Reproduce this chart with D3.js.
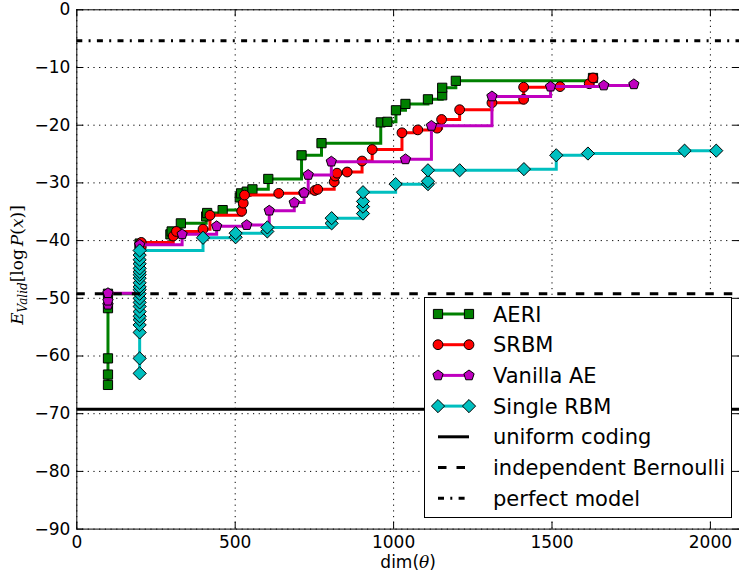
<!DOCTYPE html>
<html>
<head>
<meta charset="utf-8">
<script src="https://cdn.jsdelivr.net/npm/d3@7"></script>
<style>
  html, body { margin: 0; padding: 0; background: #fff; }
  svg { display: block; font-family: "DejaVu Sans", sans-serif; }
</style>
</head>
<body>
<svg id="chart" width="739" height="573"></svg>
<script>
// values, [dim, E_valid]
const AERI = [
  [100, -65.1], [100, -63.3], [100, -60.5], [100, -51.8], [100, -49.3],
  [200, -41.2], [200, -40.6], [297, -39.0], [301, -38.5], [330, -37.1],
  [410, -35.9], [413, -35.3], [462, -34.8], [516, -32.6], [520, -31.9],
  [538, -31.6], [556, -31.2], [606, -29.4], [711, -25.3], [774, -23.2],
  [961, -19.6], [982, -19.5], [1009, -17.5], [1039, -16.4], [1110, -15.6],
  [1155, -14.9], [1155, -13.6], [1198, -12.4], [1631, -11.9]
];
const SRBM = [
  [205, -41.2], [205, -40.4], [306, -39.3], [316, -38.5], [400, -38.1],
  [422, -35.7], [522, -35.0], [527, -33.6], [531, -32.2], [639, -31.9],
  [718, -31.8], [753, -31.4], [762, -31.2], [814, -29.9], [817, -28.9],
  [823, -28.4], [855, -28.2], [902, -26.3], [934, -24.3], [1028, -21.4],
  [1078, -20.9], [1139, -20.6], [1153, -19.1], [1210, -17.4], [1312, -16.2],
  [1412, -15.6], [1412, -13.5], [1527, -13.4], [1619, -12.9], [1631, -11.9]
];
const VANILLA_AE = [
  [100, -51.2], [100, -50.5], [100, -49.2], [200, -45.0], [200, -40.8],
  [334, -39.0], [443, -37.6], [538, -37.4], [609, -34.9], [688, -33.5],
  [719, -31.8], [732, -28.7], [805, -26.4], [1039, -26.0], [1121, -20.2],
  [1312, -15.1], [1497, -13.4], [1665, -13.2], [1760, -13.0]
];
const SINGLE_RBM = [
  [200, -63.1], [200, -60.5], [200, -56.0], [200, -54.7], [200, -53.8],
  [200, -53.2], [200, -52.4], [200, -51.5], [200, -50.8], [200, -50.1],
  [200, -49.3], [200, -48.6], [200, -48.1], [200, -47.4], [200, -46.6],
  [200, -46.0], [200, -45.5], [200, -44.9], [200, -44.1], [200, -43.4],
  [200, -42.6], [200, -41.8], [400, -39.6], [503, -39.5], [503, -38.8],
  [603, -38.5], [603, -37.8], [806, -37.1], [806, -36.2], [905, -35.4],
  [905, -34.2], [905, -33.3], [905, -31.7], [1008, -30.3], [1110, -30.3],
  [1110, -29.8], [1110, -27.9], [1210, -27.9], [1413, -27.7], [1515, -25.3],
  [1615, -25.0], [1920, -24.5], [2020, -24.5]
];

// reference levels
const UNIFORM_CODING = -69.3;
const INDEP_BERNOULLI = -49.3;
const PERFECT_MODEL = -5.45;

const X_TICKS = [0, 500, 1000, 1500, 2000];
const Y_TICKS = [0, -10, -20, -30, -40, -50, -60, -70, -80, -90];

const SERIES = [
  { name: "AERI", data: AERI, color: "#008000", marker: "square" },
  { name: "SRBM", data: SRBM, color: "#ff0000", marker: "circle" },
  { name: "Vanilla AE", data: VANILLA_AE, color: "#bf00bf", marker: "pentagon" },
  { name: "Single RBM", data: SINGLE_RBM, color: "#00bfbf", marker: "diamond" }
];

const REF_LINES = [
  { name: "uniform coding", value: UNIFORM_CODING, dash: null },
  { name: "independent Bernoulli", value: INDEP_BERNOULLI, dash: "8.5,10" },
  { name: "perfect model", value: PERFECT_MODEL, dash: "6,6.3,2,6.3" }
];

const svg = d3.select("#chart");
const margin = { left: 76.3, top: 9.3, right: 740, bottom: 528.6 };
const tickFs = 17;
const legendFs = 21;

const x = d3.scaleLinear().domain([0, 2095]).range([margin.left, margin.right]);
const y = d3.scaleLinear().domain([-90, 0]).range([margin.bottom, margin.top]);

const minus = s => String(s).replace("-", "\u2212");

// marker path centred on 0,0
function markerPath(type) {
  if (type === "square") return "M-4.6,-4.6H4.6V4.6H-4.6Z";
  if (type === "circle") return d3.symbol(d3.symbolCircle, Math.PI * 4.9 * 4.9)();
  if (type === "diamond") return "M0,-6.6L6.6,0L0,6.6L-6.6,0Z";
  const r = 5.4;
  const pts = d3.range(5).map(k => {
    const a = (-90 + 72 * k) * Math.PI / 180;
    return [r * Math.cos(a), r * Math.sin(a)];
  });
  return "M" + pts.map(p => p.join(",")).join("L") + "Z";
}

// grid
svg.append("g")
  .attr("transform", `translate(0,${margin.bottom})`)
  .call(d3.axisBottom(x).tickValues(X_TICKS).tickSize(-(margin.bottom - margin.top)).tickFormat(""))
  .call(g => g.select(".domain").remove())
  .selectAll("line")
  .attr("stroke", "#000").attr("stroke-width", 1).attr("stroke-dasharray", "1.2,4.5");

svg.append("g")
  .attr("transform", `translate(${margin.left},0)`)
  .call(d3.axisLeft(y).tickValues(Y_TICKS).tickSize(-(margin.right - margin.left)).tickFormat(""))
  .call(g => g.select(".domain").remove())
  .selectAll("line")
  .attr("stroke", "#000").attr("stroke-width", 1).attr("stroke-dasharray", "1.2,4.5");

// clip
svg.append("clipPath").attr("id", "clip")
  .append("rect")
  .attr("x", margin.left).attr("y", margin.top)
  .attr("width", margin.right - margin.left).attr("height", margin.bottom - margin.top);

const plot = svg.append("g").attr("clip-path", "url(#clip)");

const line = d3.line()
  .x(d => x(d[0]))
  .y(d => y(d[1]))
  .curve(d3.curveStepAfter);

SERIES.forEach(s => {
  const g = plot.append("g");
  g.append("path")
    .datum(s.data)
    .attr("d", line)
    .attr("fill", "none")
    .attr("stroke", s.color)
    .attr("stroke-width", 3);
  g.selectAll("path.mk")
    .data(s.data)
    .join("path")
    .attr("class", "mk")
    .attr("d", markerPath(s.marker))
    .attr("transform", d => `translate(${x(d[0])},${y(d[1])})`)
    .attr("fill", s.color)
    .attr("stroke", "#000")
    .attr("stroke-width", 1);
});

REF_LINES.forEach(r => {
  plot.append("line")
    .attr("x1", margin.left).attr("x2", margin.right)
    .attr("y1", y(r.value)).attr("y2", y(r.value))
    .attr("stroke", "#000")
    .attr("stroke-width", 3)
    .attr("stroke-dasharray", r.dash);
});

// axes: ticks inside on all four sides
function styleAxis(g) {
  g.select(".domain").attr("stroke", "#000").attr("stroke-width", 1);
  g.selectAll(".tick line").attr("stroke", "#000").attr("stroke-width", 1);
  g.selectAll(".tick text")
    .attr("fill", "#000")
    .style("font-family", "DejaVu Sans")
    .style("font-size", tickFs + "px");
}

svg.append("g")
  .attr("transform", `translate(0,${margin.bottom})`)
  .call(d3.axisBottom(x).tickValues(X_TICKS).tickSize(-7).tickSizeOuter(0).tickPadding(7).tickFormat(d3.format("d")))
  .call(styleAxis);

svg.append("g")
  .attr("transform", `translate(0,${margin.top})`)
  .call(d3.axisTop(x).tickValues(X_TICKS).tickSize(-7).tickSizeOuter(0).tickFormat(""))
  .call(styleAxis);

svg.append("g")
  .attr("transform", `translate(${margin.left},0)`)
  .call(d3.axisLeft(y).tickValues(Y_TICKS).tickSize(-7).tickSizeOuter(0).tickPadding(6).tickFormat(minus))
  .call(styleAxis);

svg.append("g")
  .attr("transform", `translate(${margin.right},0)`)
  .call(d3.axisRight(y).tickValues(Y_TICKS).tickSize(-7).tickSizeOuter(0).tickFormat(""))
  .call(styleAxis);

// axis labels
const xl = svg.append("text")
  .attr("x", (margin.left + margin.right) / 2)
  .attr("y", 568)
  .attr("text-anchor", "middle")
  .style("font-size", tickFs + "px");
xl.append("tspan").text("dim(");
xl.append("tspan").style("font-family", "DejaVu Serif").style("font-style", "italic").text("\u03b8");
xl.append("tspan").text(")");

const yl = svg.append("text")
  .attr("transform", "translate(23,265) rotate(-90)")
  .attr("text-anchor", "middle")
  .style("font-family", "DejaVu Serif")
  .style("font-size", "17px");
yl.append("tspan").style("font-style", "italic").text("E");
yl.append("tspan").style("font-style", "italic").style("font-size", "12px").attr("dy", 4).text("Valid");
yl.append("tspan").attr("dy", -4).text("[log");
yl.append("tspan").style("font-style", "italic").attr("dx", 3).text("P");
yl.append("tspan").text("(");
yl.append("tspan").style("font-style", "italic").text("x");
yl.append("tspan").text(")]");

// legend
const legend = svg.append("g");
legend.append("rect")
  .attr("x", 424.5).attr("y", 297.5)
  .attr("width", 307).attr("height", 220)
  .attr("fill", "#fff")
  .attr("stroke", "#000")
  .attr("stroke-width", 1);

const legendItems = SERIES.map(s => ({ name: s.name, color: s.color, marker: s.marker, dash: null }))
  .concat(REF_LINES.map(r => ({ name: r.name, color: "#000", marker: null, dash: r.dash })));

legendItems.forEach((d, i) => {
  const cy = 314 + i * 30.7;
  const g = legend.append("g");
  g.append("line")
    .attr("x1", 438).attr("x2", 469)
    .attr("y1", cy).attr("y2", cy)
    .attr("stroke", d.color)
    .attr("stroke-width", 3)
    .attr("stroke-dasharray", d.dash);
  if (d.marker) {
    [438, 469].forEach(mx => {
      g.append("path")
        .attr("d", markerPath(d.marker))
        .attr("transform", `translate(${mx},${cy})`)
        .attr("fill", d.color)
        .attr("stroke", "#000")
        .attr("stroke-width", 1);
    });
  }
  g.append("text")
    .attr("x", 493)
    .attr("y", cy)
    .attr("dy", "0.36em")
    .style("font-size", legendFs + "px")
    .text(d.name);
});
</script>
</body>
</html>
